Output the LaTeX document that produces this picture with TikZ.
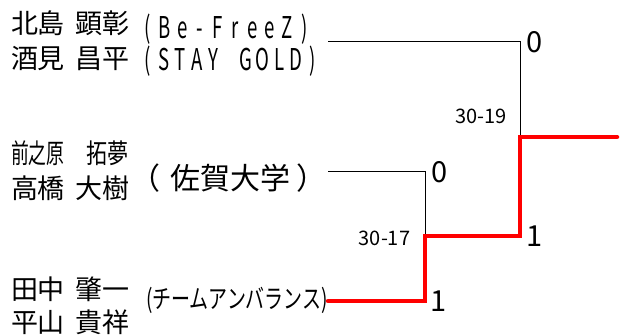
\documentclass[tikz,border=0pt]{standalone}
\usepackage{fontspec}
\usepackage{graphicx}
\setmainfont{Noto Sans CJK JP}
\ExplSyntaxOn
\NewDocumentCommand\spreadtext{m m}{\tl_map_inline:nn {#2}{\makebox[#1][c]{\scalebox{0.62}[1]{##1}}}}
\ExplSyntaxOff
\newcommand\nmsp[2]{\spaceskip=#1\relax #2}
\begin{document}
\begin{tikzpicture}[x=1pt,y=-1pt,
  every node/.style={inner sep=0pt, outer sep=0pt},
  namefont/.style={font=\fontsize{27}{27}\selectfont},
  teamfont/.style={font=\fontsize{30}{30}\selectfont},
  scorefont/.style={font=\fontsize{29}{29}\selectfont},
  pointfont/.style={font=\fontsize{20}{20}\selectfont},
  loser/.style={draw=black, line width=1pt},
  winner/.style={draw=red, line width=4.5pt, line cap=round},
]
\useasboundingbox (0,0) rectangle (624,335);
% names
\node[namefont, anchor=west] (n1a) at (11,23.5) {\nmsp{11pt}{北島 顕彰}};
\node[namefont, anchor=west] (n1b) at (11,58.5) {\nmsp{11pt}{酒見 昌平}};
\node[teamfont, anchor=base west] (t1a) at (138.5,38) {\spreadtext{17.5pt}{(Be-FreeZ)}};
\node[teamfont, anchor=base west] (t1b) at (139,70) {\spreadtext{16.5pt}{(STAY~GOLD)}};
\node[namefont, anchor=west] (n2a) at (11,153) {\scalebox{0.66}[1]{前之原}\nmsp{22pt}{ }\scalebox{0.78}[1]{拓夢}};
\node[namefont, anchor=west] (n2b) at (11,188) {\nmsp{11pt}{高橋 大樹}};
\node[font=\fontsize{30}{30}\selectfont, anchor=west] (t2) at (130,178) {（\kern11pt 佐賀大学\kern6pt ）};
\node[namefont, anchor=west] (n3a) at (11,289) {\nmsp{11pt}{田中 肇一}};
\node[namefont, anchor=west] (n3b) at (11,322.5) {\nmsp{11pt}{平山 貴祥}};
\node[font=\fontsize{26}{26}\selectfont, anchor=west] (t3) at (146,300) {\scalebox{0.73}[1]{(チームアンバランス)}};
% bracket points
\coordinate (a1) at (328,41);
\coordinate (a2) at (520,41);
\coordinate (m1) at (520,137);
\coordinate (f) at (617,137);
\coordinate (b1) at (328,171);
\coordinate (b2) at (425,171);
\coordinate (m2) at (425,236);
\coordinate (m2r) at (520,236);
\coordinate (c1) at (328,301);
\coordinate (c2) at (425,301);
\draw[loser] (a1) -- (a2) -- (m1);
\draw[loser] (b1) -- (b2) -- (m2);
\draw[winner] (c1) -- (c2) -- (m2) -- (m2r) -- (m1) -- (f);
% scores
\node[scorefont] (s1) at (535,42) {0};
\node[scorefont] (s2) at (439.5,172) {0};
\node[scorefont] (s3) at (535,236.5) {1};
\node[scorefont] (s4) at (438.5,301.5) {1};
\node[pointfont] (p1) at (481,116) {30-19};
\node[pointfont] (p2) at (384.5,238) {30-17};
\end{tikzpicture}
\end{document}
